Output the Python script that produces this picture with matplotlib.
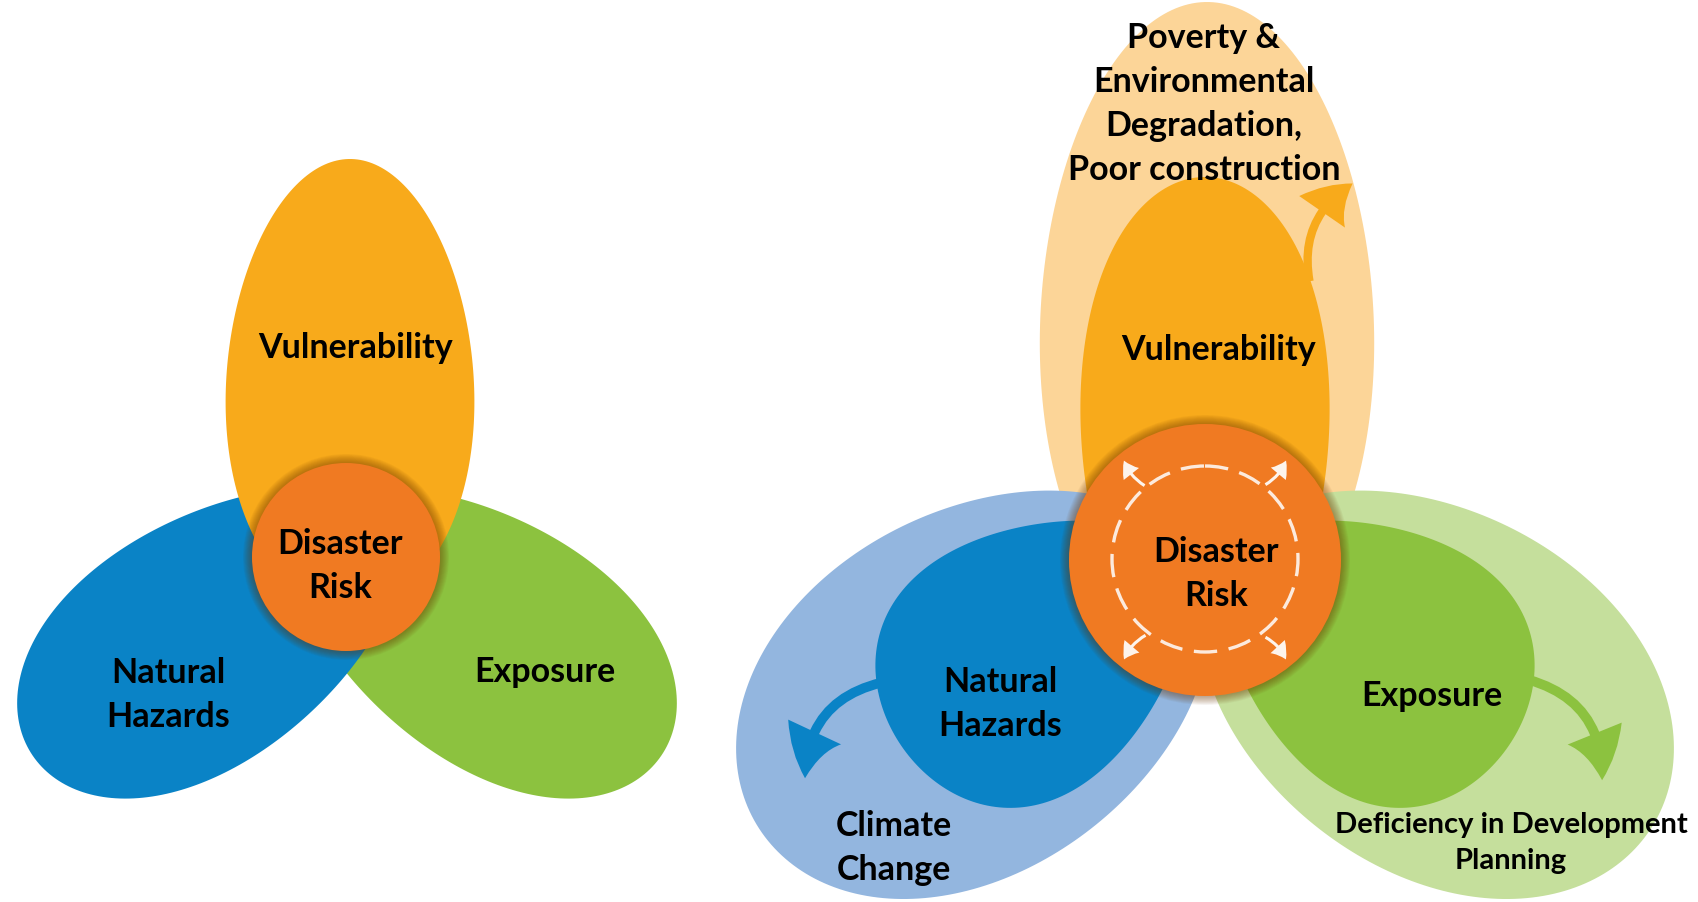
import numpy as np
import matplotlib
matplotlib.use("Agg")
import matplotlib.pyplot as plt
from matplotlib.patches import Polygon, Circle, FancyArrowPatch

plt.rcParams['font.family'] = ['Lato', 'DejaVu Sans']

# labels
petal_labels = ["Vulnerability", "Natural\nHazards", "Exposure"]
core_label = "Disaster\nRisk"
driver_labels = ["Poverty &\nEnvironmental\nDegradation,\nPoor construction",
                 "Climate\nChange",
                 "Deficiency in Development\nPlanning"]

# colours
dark_cols = ['#F8AA1B', '#0A83C6', '#8CC23F']
light_cols = ['#FCD598', '#93B6DF', '#C5DF9C']
core_col = '#F07A22'


def egg(cx, cy, a, b, ang, k=0.0, n=240):
    # ellipse-ish petal, +u axis points to the centre circle (narrow end)
    t = np.linspace(0, 2 * np.pi, n)
    u = a * np.cos(t)
    v = b * np.sin(t) * (1 - k * np.cos(t))
    r = np.deg2rad(ang)
    d = np.array([np.cos(r), -np.sin(r)])
    p = np.array([np.sin(r), np.cos(r)])
    x = cx + u * d[0] + v * p[0]
    y = cy + u * d[1] + v * p[1]
    return np.column_stack([x, y])


def core(ax, cx, cy, r):
    for i in range(10, 0, -1):
        ax.add_patch(Circle((cx, cy), r + i * 0.9, color='#6b3300', alpha=0.05, lw=0, zorder=9))
    ax.add_patch(Circle((cx, cy), r, color=core_col, lw=0, zorder=10))


def label(x, y, s, size=24.5):
    ax.text(x, y, s, fontsize=size, weight='bold', ha='center', va='center',
            linespacing=1.45, color='black', zorder=20)


fig = plt.figure(figsize=(16.99, 9.03), dpi=100)
ax = fig.add_axes([0, 0, 1, 1])
ax.set_xlim(0, 1699)
ax.set_ylim(903, 0)
ax.axis('off')

# ---- left diagram
ax.add_patch(Polygon(egg(482, 638, 215, 122, 147, 0.12), color=dark_cols[2], lw=0, zorder=2))
ax.add_patch(Polygon(egg(212, 638, 215, 122, 33, 0.12), color=dark_cols[1], lw=0, zorder=3))
ax.add_patch(Polygon(egg(350, 385, 225, 124, -90, -0.08), color=dark_cols[0], lw=0, zorder=4))
core(ax, 346, 558, 94)

label(356, 348, petal_labels[0])
label(168, 695, petal_labels[1])
label(545, 672, petal_labels[2])
label(340, 566, core_label)

# ---- right diagram
ax.add_patch(Polygon(egg(1207, 328, 325, 167, -90, -0.05), color=light_cols[0], lw=0, zorder=2))
ax.add_patch(Polygon(egg(975, 692, 256, 180, 32, 0.05), color=light_cols[1], lw=0, zorder=3))
ax.add_patch(Polygon(egg(1435, 692, 256, 180, 148, 0.05), color=light_cols[2], lw=0, zorder=3))
ax.add_patch(Polygon(egg(1205, 435, 257, 124, -90, 0.1), color=dark_cols[0], lw=0, zorder=5))
ax.add_patch(Polygon(egg(1040, 652, 168, 130, 35, 0.25), color=dark_cols[1], lw=0, zorder=6))
ax.add_patch(Polygon(egg(1370, 652, 168, 130, 145, 0.25), color=dark_cols[2], lw=0, zorder=6))
core(ax, 1205, 561, 136)

ax.add_patch(Circle((1205, 560), 93, fill=False, ec='white', lw=2.4, ls=(0, (7, 3.5)),
                    alpha=0.85, zorder=12))
for s, e, rad in [((1147, 488), (1123, 459), -0.2), ((1263, 487), (1287, 459), 0.2),
                  ((1148, 635), (1123, 663), 0.2), ((1263, 637), (1287, 663), -0.2)]:
    ax.add_patch(FancyArrowPatch(s, e, connectionstyle=f"arc3,rad={rad}",
                                 arrowstyle="simple,head_length=11,head_width=14,tail_width=2.2",
                                 color='white', alpha=0.92, lw=0, zorder=13))

# driver arrows
ax.add_patch(FancyArrowPatch((1310, 285), (1355, 183), connectionstyle="arc3,rad=-0.35",
                             arrowstyle="simple,head_length=30,head_width=40,tail_width=6",
                             color=dark_cols[0], lw=0, zorder=7))
ax.add_patch(FancyArrowPatch((884, 683), (805, 782), connectionstyle="arc3,rad=0.4",
                             arrowstyle="simple,head_length=34,head_width=42,tail_width=7",
                             color=dark_cols[1], lw=0, zorder=7))
ax.add_patch(FancyArrowPatch((1526, 680), (1602, 784), connectionstyle="arc3,rad=-0.4",
                             arrowstyle="simple,head_length=34,head_width=42,tail_width=7",
                             color=dark_cols[2], lw=0, zorder=7))

label(1204, 104, driver_labels[0])
label(894, 848, driver_labels[1])
label(1511, 843, driver_labels[2], size=21)

label(1219, 350, petal_labels[0])
label(1000, 704, petal_labels[1])
label(1432, 696, petal_labels[2])
label(1216, 574, core_label)

fig.savefig("out.png", dpi=100)
